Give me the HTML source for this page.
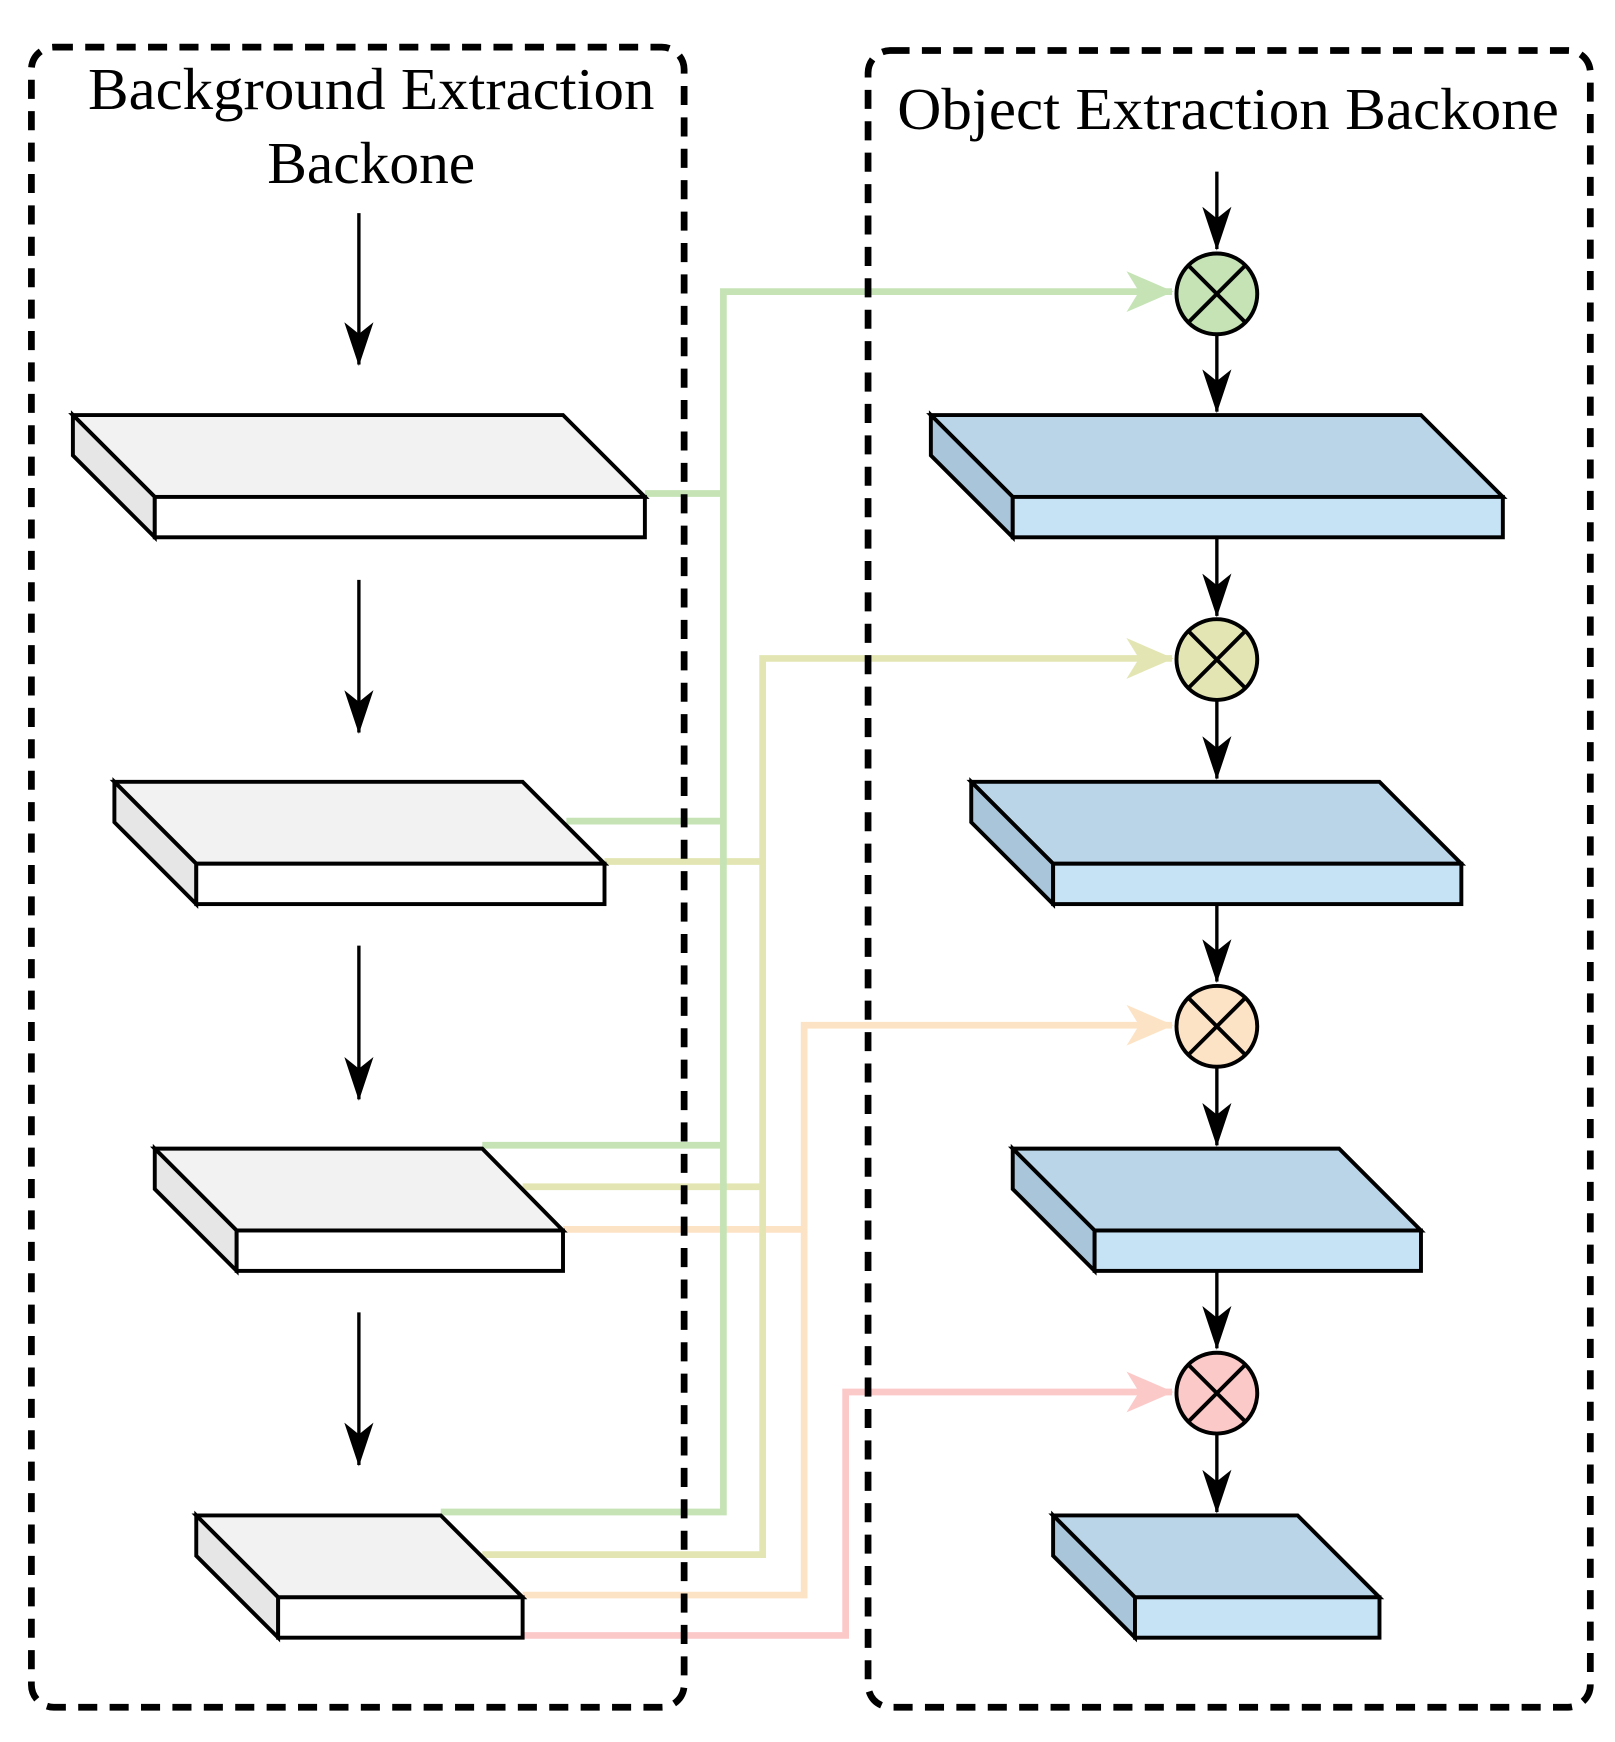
<!DOCTYPE html>
<html><head><meta charset="utf-8"><style>html,body{margin:0;padding:0;background:#fff}svg{display:block}</style></head>
<body>
<svg width="1615" height="1742" viewBox="0 0 1440 1553" preserveAspectRatio="none" xmlns="http://www.w3.org/2000/svg">
<defs>
<marker id="ab" viewBox="0 0 20 30" refX="10" refY="29" markerWidth="26" markerHeight="40" markerUnits="userSpaceOnUse" orient="0"><path d="M0,0 L10,8 L20,0 L10,30 Z" fill="#000"/></marker>
<marker id="ag" viewBox="0 0 30 30" refX="29" refY="15" markerWidth="42" markerHeight="42" markerUnits="userSpaceOnUse" orient="auto"><path d="M0,2 L30,15 L0,28 L8,15 Z" fill="#c5e3b5"/></marker>
<marker id="ay" viewBox="0 0 30 30" refX="29" refY="15" markerWidth="42" markerHeight="42" markerUnits="userSpaceOnUse" orient="auto"><path d="M0,2 L30,15 L0,28 L8,15 Z" fill="#e3e6b3"/></marker>
<marker id="ap" viewBox="0 0 30 30" refX="29" refY="15" markerWidth="42" markerHeight="42" markerUnits="userSpaceOnUse" orient="auto"><path d="M0,2 L30,15 L0,28 L8,15 Z" fill="#fde3c6"/></marker>
<marker id="ak" viewBox="0 0 30 30" refX="29" refY="15" markerWidth="42" markerHeight="42" markerUnits="userSpaceOnUse" orient="auto"><path d="M0,2 L30,15 L0,28 L8,15 Z" fill="#fcc9c9"/></marker>
</defs>
<g fill="none" stroke-width="6">
<path d="M466,1458 H754 V1241 H1045" stroke="#fcc9c9" marker-end="url(#ak)"/>
<path d="M466,1422 H717 V914 H1045" stroke="#fde3c6" marker-end="url(#ap)"/>
<path d="M502,1096 H717" stroke="#fde3c6"/>
<path d="M430,1386 H680 V587 H1045" stroke="#e3e6b3" marker-end="url(#ay)"/>
<path d="M539,768 H680 M466,1058 H680" stroke="#e3e6b3"/>
<path d="M393,1348 H645 V260 H1045" stroke="#c5e3b5" marker-end="url(#ag)"/>
<path d="M575,440 H645 M505,732 H645 M430,1021 H645" stroke="#c5e3b5"/>
</g>
<g fill="none" stroke="#000" stroke-width="6" stroke-dasharray="17 11">
<rect x="28" y="42" width="582" height="1480" rx="20"/>
<rect x="774" y="45" width="644" height="1477" rx="20"/>
</g>
<g font-family="'Liberation Serif',serif" font-size="53" fill="#000" text-anchor="middle">
<text x="331" y="97" textLength="505" lengthAdjust="spacingAndGlyphs">Background Extraction</text>
<text x="331" y="163">Backone</text>
<text x="1095" y="115" textLength="590" lengthAdjust="spacingAndGlyphs">Object Extraction Backone</text>
</g>
<g stroke="#000" stroke-width="3.5" stroke-linejoin="miter">
<g>
<polygon points="65,370 502,370 575,443 138,443" fill="#f2f2f2"/>
<polygon points="65,370 138,443 138,479 65,406" fill="#e6e6e6"/>
<rect x="138" y="443" width="437" height="36" fill="#fff"/>
</g>
<g>
<polygon points="102,697 466,697 539,770 175,770" fill="#f2f2f2"/>
<polygon points="102,697 175,770 175,806 102,733" fill="#e6e6e6"/>
<rect x="175" y="770" width="364" height="36" fill="#fff"/>
</g>
<g>
<polygon points="138,1024 430,1024 502,1097 211,1097" fill="#f2f2f2"/>
<polygon points="138,1024 211,1097 211,1133 138,1060" fill="#e6e6e6"/>
<rect x="211" y="1097" width="291" height="36" fill="#fff"/>
</g>
<g>
<polygon points="175,1351 393,1351 466,1424 248,1424" fill="#f2f2f2"/>
<polygon points="175,1351 248,1424 248,1460 175,1387" fill="#e6e6e6"/>
<rect x="248" y="1424" width="218" height="36" fill="#fff"/>
</g>
<g>
<polygon points="830,370 1267,370 1340,443 903,443" fill="#bad5e8"/>
<polygon points="830,370 903,443 903,479 830,406" fill="#a9c5da"/>
<rect x="903" y="443" width="437" height="36" fill="#c6e2f5"/>
</g>
<g>
<polygon points="866,697 1230,697 1303,770 939,770" fill="#bad5e8"/>
<polygon points="866,697 939,770 939,806 866,733" fill="#a9c5da"/>
<rect x="939" y="770" width="364" height="36" fill="#c6e2f5"/>
</g>
<g>
<polygon points="903,1024 1194,1024 1267,1097 976,1097" fill="#bad5e8"/>
<polygon points="903,1024 976,1097 976,1133 903,1060" fill="#a9c5da"/>
<rect x="976" y="1097" width="291" height="36" fill="#c6e2f5"/>
</g>
<g>
<polygon points="939,1351 1157,1351 1230,1424 1012,1424" fill="#bad5e8"/>
<polygon points="939,1351 1012,1424 1012,1460 939,1387" fill="#a9c5da"/>
<rect x="1012" y="1424" width="218" height="36" fill="#c6e2f5"/>
</g>
</g>
<g stroke="#000" stroke-width="3" marker-end="url(#ab)">
<line x1="320" y1="190" x2="320" y2="325"/>
<line x1="320" y1="517" x2="320" y2="653"/>
<line x1="320" y1="843" x2="320" y2="980"/>
<line x1="320" y1="1170" x2="320" y2="1306"/>
<line x1="1085" y1="153" x2="1085" y2="222"/>
<line x1="1085" y1="298" x2="1085" y2="367"/>
<line x1="1085" y1="479" x2="1085" y2="549"/>
<line x1="1085" y1="624" x2="1085" y2="694"/>
<line x1="1085" y1="806" x2="1085" y2="875"/>
<line x1="1085" y1="951" x2="1085" y2="1021"/>
<line x1="1085" y1="1133" x2="1085" y2="1202"/>
<line x1="1085" y1="1278" x2="1085" y2="1348"/>
</g>
<g stroke="#000" stroke-width="3.5">
<circle cx="1085" cy="262" r="36" fill="#c5e3b5"/>
<circle cx="1085" cy="588" r="36" fill="#e3e6b3"/>
<circle cx="1085" cy="915" r="36" fill="#fde3c6"/>
<circle cx="1085" cy="1242" r="36" fill="#fcc9c9"/>
<path d="M1060,237 L1110,287 M1110,237 L1060,287"/>
<path d="M1060,563 L1110,613 M1110,563 L1060,613"/>
<path d="M1060,890 L1110,940 M1110,890 L1060,940"/>
<path d="M1060,1217 L1110,1267 M1110,1217 L1060,1267"/>
</g>
</svg>
</body></html>
